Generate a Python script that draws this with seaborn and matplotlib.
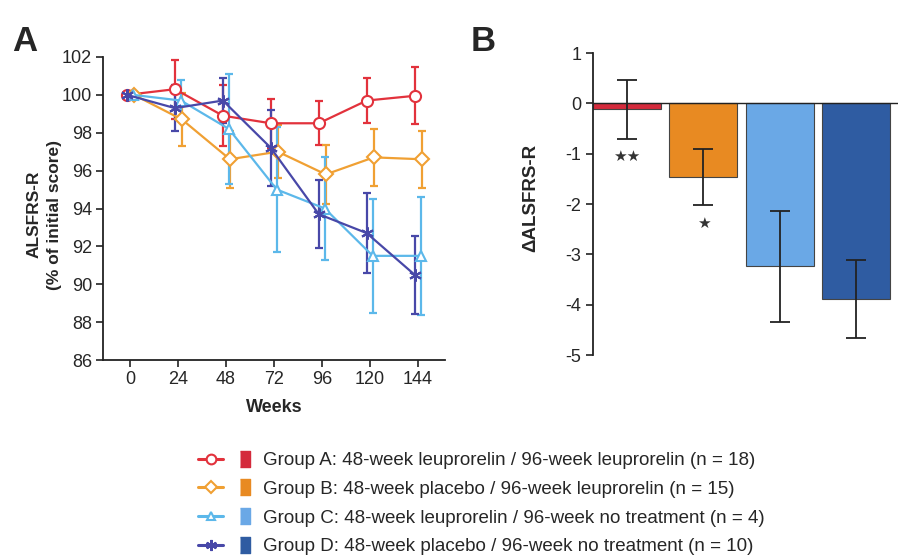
import matplotlib
matplotlib.use("Agg")
import matplotlib.pyplot as plt
import seaborn as sns
import pandas as pd
from matplotlib.lines import Line2D
from matplotlib.legend_handler import HandlerTuple

# ---- data ----
weeks = [0, 24, 48, 72, 96, 120, 144]
groups = ["A", "B", "C", "D"]
labels = [
    "Group A: 48-week leuprorelin / 96-week leuprorelin (n = 18)",
    "Group B: 48-week placebo / 96-week leuprorelin (n = 15)",
    "Group C: 48-week leuprorelin / 96-week no treatment (n = 4)",
    "Group D: 48-week placebo / 96-week no treatment (n = 10)",
]

score_a = [100, 100.3, 98.9, 98.5, 98.5, 99.7, 99.95]
err_a = [0, 1.55, 1.6, 1.3, 1.15, 1.2, 1.5]
score_b = [100, 98.7, 96.6, 97.0, 95.8, 96.7, 96.6]
err_b = [0, 1.4, 1.5, 1.4, 1.55, 1.5, 1.5]
score_c = [100, 99.7, 98.2, 95.0, 94.0, 91.5, 91.5]
err_c = [0, 1.1, 2.9, 3.3, 2.7, 3.0, 3.1]
score_d = [100, 99.3, 99.7, 97.2, 93.7, 92.7, 90.5]
err_d = [0, 1.2, 1.2, 2.0, 1.8, 2.1, 2.05]

delta_mean = [-0.12, -1.46, -3.24, -3.89]
delta_err = [0.58, 0.56, 1.1, 0.77]
signif = ["★★", "★", "", ""]

line_colors = ["#e2323c", "#f0a033", "#5cb8ea", "#4848a8"]
bar_colors = ["#d42a3c", "#e88a22", "#6aa8e6", "#2f5ca2"]
markers = ["o", "D", "^", (6, 2, 0)]
msizes = [8, 7, 7, 9]
offsets = [-1.5, 2.0, 1.5, -1.5]

scores = [score_a, score_b, score_c, score_d]
errs = [err_a, err_b, err_c, err_d]

sns.set_style("ticks")
plt.rcParams["font.family"] = ["Liberation Sans", "DejaVu Sans"]
plt.rcParams["axes.unicode_minus"] = False

fig = plt.figure(figsize=(8.99, 5.56), dpi=100)
ax1 = fig.add_axes([0.1146, 0.3525, 0.380, 0.545])
ax2 = fig.add_axes([0.6596, 0.3615, 0.339, 0.543])

# ---- panel A: time course ----
line_handles = []
for i, g in enumerate(groups):
    df = pd.DataFrame({"week": [w + offsets[i] for w in weeks], "score": scores[i]})
    ax1.errorbar(df["week"], df["score"], yerr=errs[i], fmt="none",
                 ecolor=line_colors[i], elinewidth=1.6, capsize=3, capthick=1.6, zorder=2)
    sns.lineplot(data=df, x="week", y="score", ax=ax1, color=line_colors[i],
                 marker=markers[i], markersize=msizes[i], markerfacecolor="white",
                 markeredgecolor=line_colors[i], markeredgewidth=1.5,
                 linewidth=1.6, zorder=3)
    line_handles.append(Line2D([], [], color=line_colors[i], marker=markers[i],
                               markersize=msizes[i] - 1, markerfacecolor="white",
                               markeredgecolor=line_colors[i], markeredgewidth=1.5,
                               linewidth=2.2))

ax1.set_xlim(-13.5, 157.5)
ax1.set_ylim(86, 102)
ax1.set_xticks(weeks)
ax1.set_yticks(range(86, 103, 2))
ax1.set_xlabel("Weeks", fontsize=13, fontweight="bold", labelpad=8)
ax1.set_ylabel("ALSFRS-R\n(% of initial score)", fontsize=12.5, fontweight="bold",
               linespacing=1.45)
ax1.yaxis.set_label_coords(-0.12, 0.48)
ax1.tick_params(labelsize=13, length=5, width=1.2, color="#222222", pad=3)
for s in ["left", "bottom"]:
    ax1.spines[s].set_linewidth(1.3)
    ax1.spines[s].set_color("#222222")
sns.despine(ax=ax1)

# ---- panel B: change in ALSFRS-R ----
bdf = pd.DataFrame({"group": groups, "delta": delta_mean})
sns.barplot(data=bdf, x="group", y="delta", hue="group", palette=bar_colors,
            saturation=1, legend=False, ax=ax2, width=0.89, edgecolor="#444444",
            linewidth=0.8, zorder=2)
ax2.errorbar(range(len(groups)), delta_mean, yerr=delta_err, fmt="none",
             ecolor="#222222", elinewidth=1.3, capsize=7, capthick=1.3, zorder=3)
for i, s in enumerate(signif):
    if s:
        ax2.text(i, delta_mean[i] - delta_err[i] - 0.36, s, ha="center", va="center",
                 fontsize=11, color="#333333", family="DejaVu Sans")
ax2.axhline(0, color="#222222", linewidth=1.0, zorder=4)
ax2.set_xlim(-0.444, 3.54)
ax2.set_ylim(-5, 1)
ax2.set_yticks(range(-5, 2))
ax2.set_xticks([])
ax2.set_xlabel("")
ax2.set_ylabel("ΔALSFRS-R", fontsize=13.5, fontweight="bold")
ax2.yaxis.set_label_coords(-0.175, 0.52)
ax2.tick_params(labelsize=13, length=5, width=1.2, color="#222222")
ax2.spines["left"].set_linewidth(1.3)
ax2.spines["left"].set_color("#222222")
sns.despine(ax=ax2, bottom=True)

# panel letters
fig.text(0.013, 0.955, "A", fontsize=25, fontweight="bold", va="top")
fig.text(0.523, 0.955, "B", fontsize=25, fontweight="bold", va="top")

# ---- shared legend ----
bar_marker = [(-0.3, -0.5), (0.3, -0.5), (0.3, 0.5), (-0.3, 0.5)]
handles = []
for i in range(len(groups)):
    sq = Line2D([], [], linestyle="none", marker=bar_marker, markersize=11,
                markerfacecolor=bar_colors[i], markeredgecolor=bar_colors[i])
    handles.append((line_handles[i], sq))
fig.legend(handles, labels, loc="upper left", bbox_to_anchor=(0.2203, 0.187),
           frameon=False, fontsize=13.5, handlelength=3.2, handletextpad=0.27,
           labelspacing=0.62, borderaxespad=0, borderpad=0,
           handler_map={tuple: HandlerTuple(ndivide=None, pad=0.5)})

fig.savefig("out.png", dpi=100, facecolor="white")
